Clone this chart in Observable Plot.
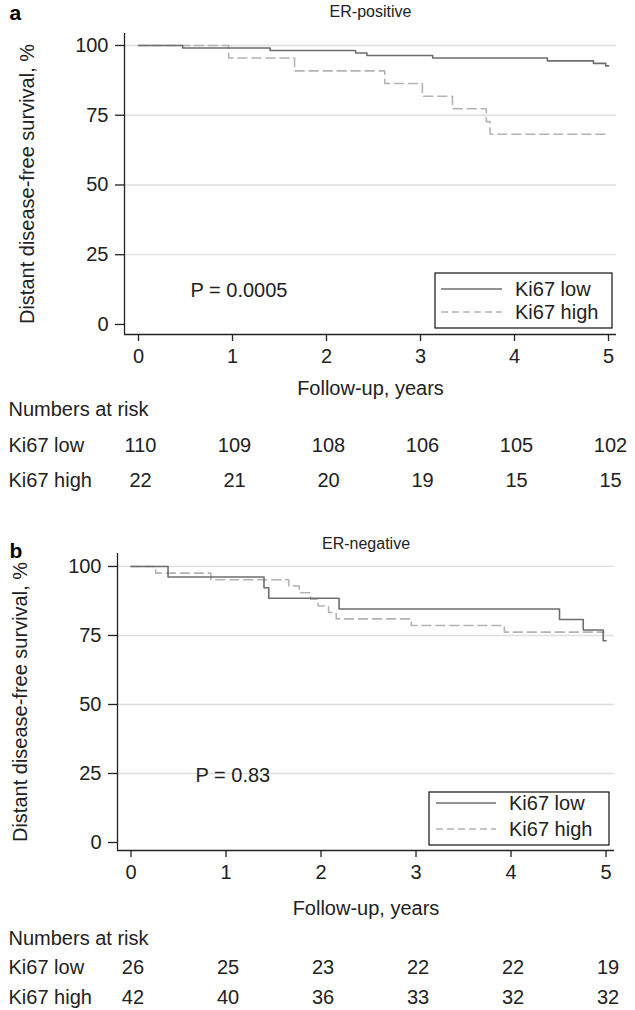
<!DOCTYPE html>
<html><head><meta charset="utf-8">
<script src="https://cdn.jsdelivr.net/npm/d3@7"></script>
<script src="https://cdn.jsdelivr.net/npm/@observablehq/plot@0.6"></script>
<style>
body{margin:0;background:#fff;}
#chart{width:635px;}
svg{display:block;}
</style></head><body><div id="chart"></div>
<script>
// ---- data ----
const years = [0, 1, 2, 3, 4, 5];
const groups = ["Ki67 low", "Ki67 high"];

// Panel a: ER-positive
const erPosLowTime  = [0, 0.47, 1.40, 2.31, 2.43, 3.13, 4.35, 4.84, 4.97, 5.00];
const erPosLowSurv  = [100, 99.1, 98.2, 97.3, 96.4, 95.5, 94.5, 93.6, 92.7, 92.7];
const erPosHighTime = [0, 0.96, 1.66, 2.62, 3.02, 3.34, 3.70, 3.74, 4.98];
const erPosHighSurv = [100, 95.5, 90.9, 86.4, 81.8, 77.3, 72.7, 68.2, 68.2];
const erPosRiskLow  = [110, 109, 108, 106, 105, 102];
const erPosRiskHigh = [22, 21, 20, 19, 15, 15];

// Panel b: ER-negative
const erNegLowTime  = [0, 0.39, 1.40, 1.45, 2.19, 4.51, 4.76, 4.97, 5.00];
const erNegLowSurv  = [100, 96.2, 92.3, 88.5, 84.6, 80.8, 77.0, 73.1, 73.1];
const erNegHighTime = [0, 0.26, 0.84, 1.66, 1.77, 1.89, 1.97, 2.08, 2.16, 2.95, 3.93, 4.98];
const erNegHighSurv = [100, 97.6, 95.2, 92.9, 90.5, 88.1, 85.7, 83.3, 81.0, 78.6, 76.2, 76.2];
const erNegRiskLow  = [26, 25, 23, 22, 22, 19];
const erNegRiskHigh = [42, 40, 36, 33, 32, 32];

const yTicks = [0, 25, 50, 75, 100];
const gridTicks = [25, 50, 75, 100];

const FONT = "'Liberation Sans', Arial, Helvetica, sans-serif";
const INK = "#222";
const LOW_COLOR = "#6e6e6e";
const HIGH_COLOR = "#b3b3b3";
const DASH = "9,5";

function zip(t, s) { return t.map((v, i) => ({t: v, s: s[i]})); }

function panel(cfg) {
  const low = zip(cfg.lowT, cfg.lowS);
  const high = zip(cfg.highT, cfg.highS);
  const riskLow = years.map((y, i) => ({year: y, n: cfg.riskLow[i]}));
  const riskHigh = years.map((y, i) => ({year: y, n: cfg.riskHigh[i]}));
  const L = cfg.marginLeft;
  const T = {fontSize: 20, fill: INK, lineAnchor: "middle"};
  const svg = Plot.plot({
    width: 635,
    height: cfg.height,
    marginLeft: L,
    marginRight: cfg.marginRight,
    marginTop: cfg.marginTop,
    marginBottom: cfg.height - cfg.frameBottom,
    style: {fontFamily: FONT, fontSize: "20px", color: INK, background: "white", overflow: "visible"},
    x: {domain: cfg.xDomain},
    y: {domain: cfg.yDomain},
    marks: [
      Plot.ruleY(gridTicks, {stroke: "#dedede", strokeWidth: 1.3}),
      Plot.line(high, {x: "t", y: "s", curve: "step-after", stroke: HIGH_COLOR, strokeWidth: 1.6, strokeDasharray: DASH}),
      Plot.line(low, {x: "t", y: "s", curve: "step-after", stroke: LOW_COLOR, strokeWidth: 1.6}),
      Plot.ruleX([cfg.xDomain[0]], {stroke: INK, strokeWidth: 1.3}),
      Plot.ruleY([cfg.yDomain[0]], {stroke: INK, strokeWidth: 1.3}),
      Plot.axisY({ticks: yTicks, tickFormat: d3.format("d"), tickSize: 9, tickPadding: 7, label: null, fontSize: 20, strokeWidth: 1.3}),
      Plot.axisX({ticks: years, tickFormat: d3.format("d"), tickSize: 7, tickPadding: 7, label: null, fontSize: 20, strokeWidth: 1.3}),
      Plot.text([cfg.title], {...T, text: d => d, frameAnchor: "top", dy: cfg.titleDy, fontSize: 16}),
      Plot.text([cfg.letter], {...T, text: d => d, frameAnchor: "top-left", dx: 9 - L, dy: cfg.letterDy, fontSize: 21, fontWeight: "bold", textAnchor: "start", fill: "#000"}),
      Plot.text(["Distant disease-free survival, %"], {...T, text: d => d, frameAnchor: "left", dx: -97, rotate: -90, textAnchor: "middle"}),
      Plot.text(["Follow-up, years"], {...T, text: d => d, frameAnchor: "bottom", dy: cfg.xLabelDy}),
      Plot.text([cfg.pText], {...T, text: d => d, frameAnchor: "bottom-left", dx: cfg.pDx, dy: cfg.pDy, textAnchor: "start"}),
      Plot.text(["Numbers at risk"], {...T, text: d => d, frameAnchor: "bottom-left", dx: 8 - L, dy: cfg.riskTitleDy, textAnchor: "start"}),
      Plot.text([groups[0]], {...T, text: d => d, frameAnchor: "bottom-left", dx: 8 - L, dy: cfg.row1Dy, textAnchor: "start"}),
      Plot.text([groups[1]], {...T, text: d => d, frameAnchor: "bottom-left", dx: 8 - L, dy: cfg.row2Dy, textAnchor: "start"}),
      Plot.text(riskLow, {...T, x: "year", text: "n", frameAnchor: "bottom", dy: cfg.row1Dy, dx: 2}),
      Plot.text(riskHigh, {...T, x: "year", text: "n", frameAnchor: "bottom", dy: cfg.row2Dy, dx: 2})
    ]
  });
  // legend box (layout in pixels)
  const lg = cfg.legend;
  const g = d3.select(svg).append("g").attr("font-family", FONT).attr("font-size", 20)
    .attr("fill", INK).attr("text-anchor", "start");
  g.append("rect").attr("x", lg.x).attr("y", lg.y).attr("width", lg.w).attr("height", lg.h)
    .attr("fill", "white").attr("stroke", "#111").attr("stroke-width", 1.2);
  const rows = [
    {label: groups[0], y: lg.y1, stroke: LOW_COLOR, dash: null},
    {label: groups[1], y: lg.y2, stroke: HIGH_COLOR, dash: "7,4"}
  ];
  rows.forEach(r => {
    g.append("line").attr("x1", lg.lx1).attr("x2", lg.lx2).attr("y1", r.y).attr("y2", r.y)
      .attr("stroke", r.stroke).attr("stroke-width", 1.4).attr("stroke-dasharray", r.dash);
    g.append("text").attr("x", lg.tx).attr("y", r.y).attr("dy", "0.35em")
      .attr("text-anchor", "start").text(r.label);
  });
  return svg;
}

const chart = document.getElementById("chart");
chart.appendChild(panel({
  title: "ER-positive", letter: "a", pText: "P = 0.0005",
  lowT: erPosLowTime, lowS: erPosLowSurv, highT: erPosHighTime, highS: erPosHighSurv,
  riskLow: erPosRiskLow, riskHigh: erPosRiskHigh,
  height: 500, marginLeft: 124, marginRight: 19, marginTop: 33, frameBottom: 334,
  xDomain: [-0.149, 5.085], yDomain: [-3.6, 104.3],
  titleDy: -22, letterDy: -20, xLabelDy: 54, pDx: 66, pDy: -44,
  riskTitleDy: 75, row1Dy: 111, row2Dy: 146,
  legend: {x: 435, y: 273, w: 177, h: 55, y1: 289, y2: 312, lx1: 441, lx2: 502, tx: 515}
}));
chart.appendChild(panel({
  title: "ER-negative", letter: "b", pText: "P = 0.83",
  lowT: erNegLowTime, lowS: erNegLowSurv, highT: erNegHighTime, highS: erNegHighSurv,
  riskLow: erNegRiskLow, riskHigh: erNegRiskHigh,
  height: 510, marginLeft: 117, marginRight: 21, marginTop: 53, frameBottom: 350,
  xDomain: [-0.142, 5.089], yDomain: [-2.9, 104.7],
  titleDy: -10, letterDy: -2, xLabelDy: 58, pDx: 78, pDy: -75,
  riskTitleDy: 88, row1Dy: 117, row2Dy: 147,
  legend: {x: 429, y: 292, w: 180, h: 53, y1: 303, y2: 329, lx1: 436, lx2: 496, tx: 509}
}));
</script></body></html>
